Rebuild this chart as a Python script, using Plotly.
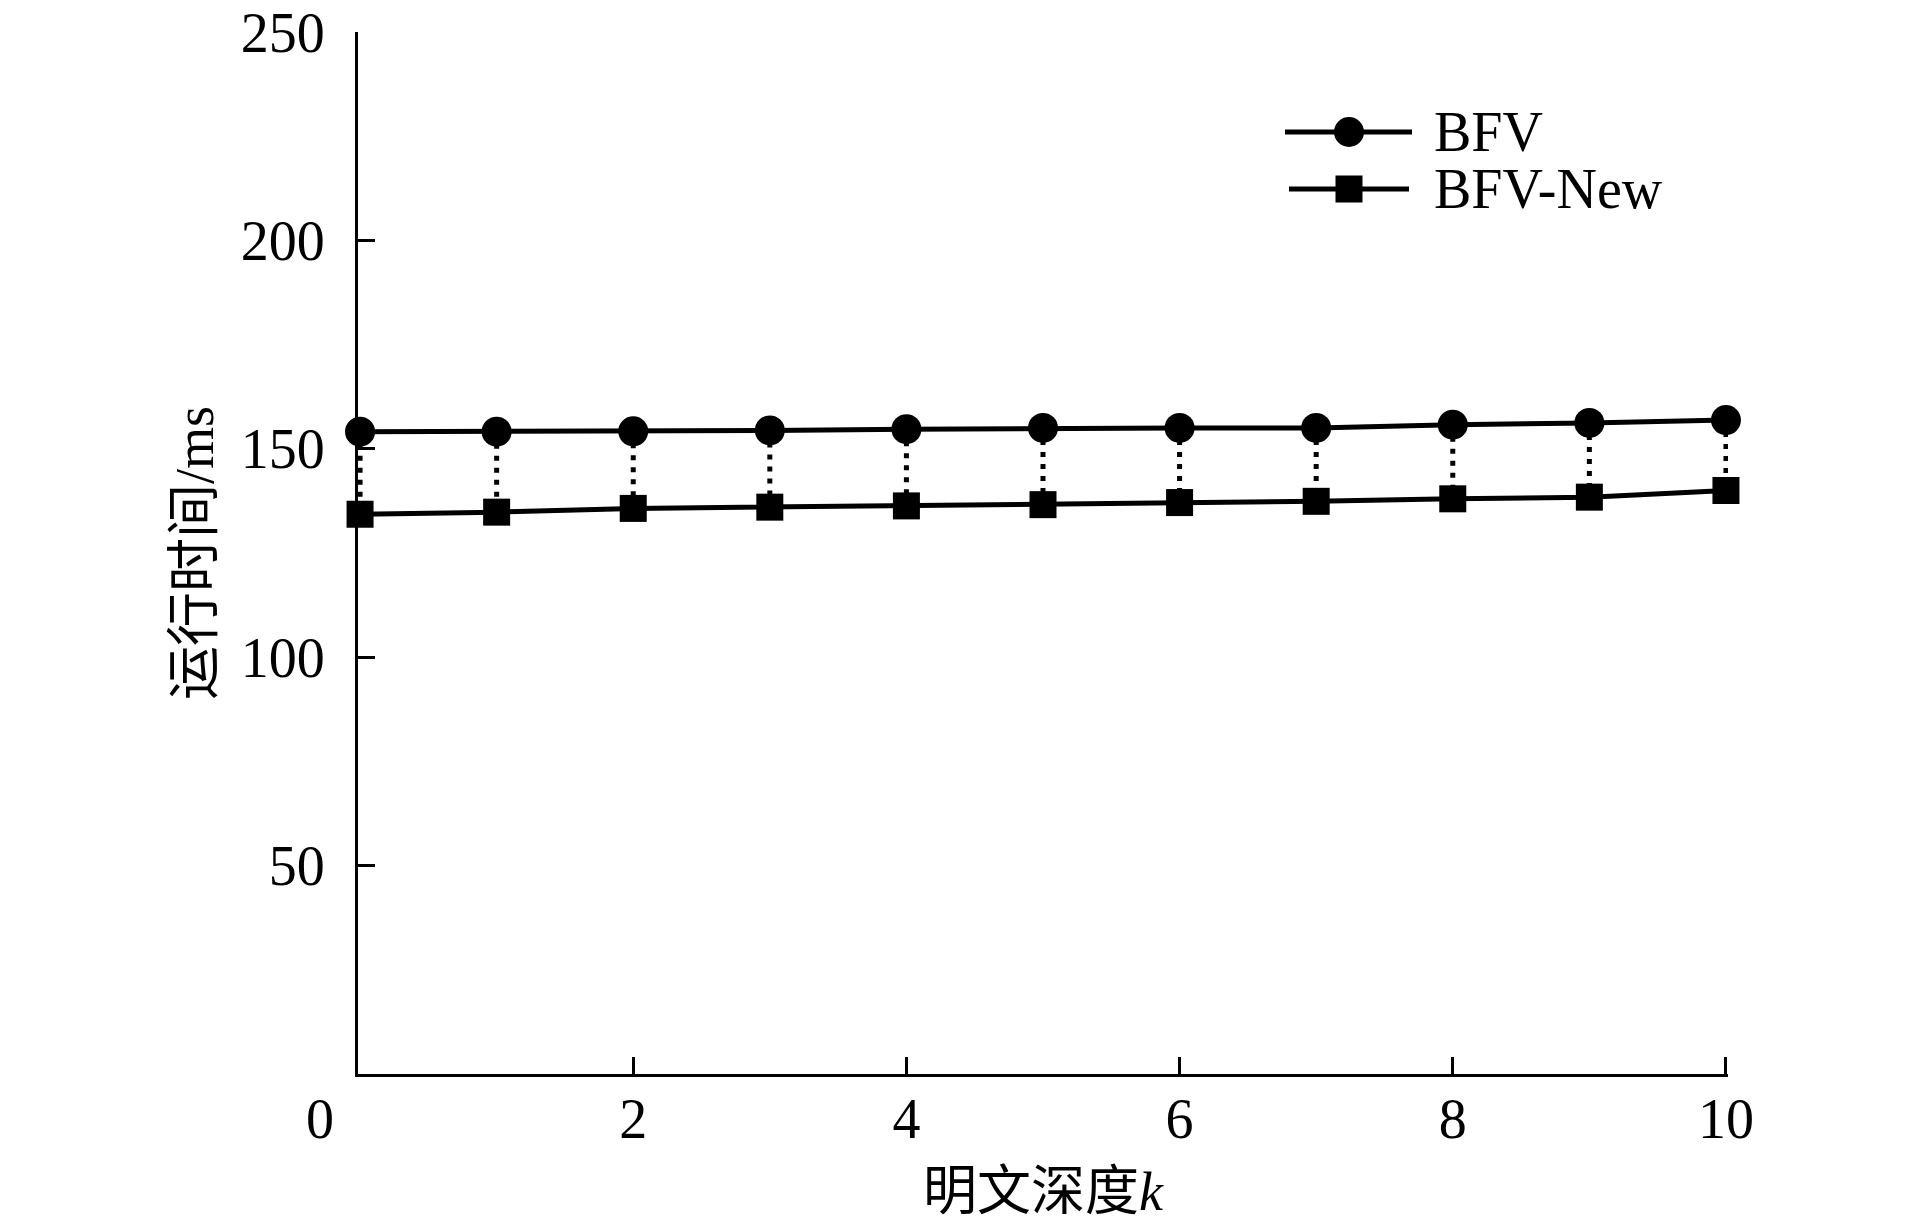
import plotly.graph_objects as go

depth_k = [0, 1, 2, 3, 4, 5, 6, 7, 8, 9, 10]
bfv = [154.1, 154.1, 154.2, 154.4, 154.7, 155.0, 155.0, 155.0, 155.8, 156.2, 156.9]
bfv_new = [134.3, 134.8, 135.7, 136.0, 136.3, 136.6, 137.1, 137.4, 138.0, 138.4, 140.0]
x_ticks = [2, 4, 6, 8, 10]
y_ticks = [50, 100, 150, 200, 250]
series_names = ["BFV", "BFV-New"]

SERIF = "Liberation Serif, 'Noto Sans CJK SC', serif"
OFFX, OFFY = 6, 8  # page offset
W, H = 1905, 1220
L, T = 356 - OFFX, 32 - OFFY
R = W - (1726 - OFFX)
B = H - (1074 - OFFY)
pw, ph = W - L - R, H - T - B

def px(x):
    return (x - OFFX - L) / pw

def py(y):
    return (H - B - (y - OFFY)) / ph

fig = go.Figure()

# dotted connectors between paired points
cx, cy = [], []
for k, a, b in zip(depth_k, bfv, bfv_new):
    cx += [k, k, None]
    cy += [a, b, None]
fig.add_trace(go.Scatter(x=cx, y=cy, mode="lines", showlegend=False,
                         line=dict(color="black", width=5, dash="5px,7px"),
                         cliponaxis=False, hoverinfo="skip"))

fig.add_trace(go.Scatter(x=depth_k, y=bfv, mode="lines+markers", name=series_names[0],
                         line=dict(color="black", width=5),
                         marker=dict(symbol="circle", size=30, color="black"),
                         cliponaxis=False, showlegend=False))
fig.add_trace(go.Scatter(x=depth_k, y=bfv_new, mode="lines+markers", name=series_names[1],
                         line=dict(color="black", width=5),
                         marker=dict(symbol="square", size=27, color="black"),
                         cliponaxis=False, showlegend=False))

# manual legend
shapes = []
annotations = []
leg_rows = [(132, "circle", 30, 1283, 1410), (189, "rect", 27, 1287, 1407)]
for (yy, sym, sz, x0, x1), name in zip(leg_rows, series_names):
    shapes.append(dict(type="line", xref="paper", yref="paper",
                       x0=px(x0), x1=px(x1), y0=py(yy), y1=py(yy),
                       line=dict(color="black", width=5)))
    shapes.append(dict(type=sym, xref="paper", yref="paper",
                       xsizemode="pixel", ysizemode="pixel",
                       xanchor=px(1347), yanchor=py(yy),
                       x0=-sz / 2, x1=sz / 2, y0=-sz / 2, y1=sz / 2,
                       fillcolor="black", line=dict(color="black", width=0)))
    annotations.append(dict(text=name, xref="paper", yref="paper",
                            x=px(1430), y=py(yy), xanchor="left", yanchor="middle",
                            showarrow=False, font=dict(family=SERIF, size=56, color="black")))

# origin label "0"
annotations.append(dict(text="0", xref="x", yref="paper", x=0, y=0,
                        xanchor="center", yanchor="top", xshift=-40, yshift=-12,
                        showarrow=False, font=dict(family=SERIF, size=56, color="black")))

fig.update_layout(
    width=W, height=H,
    margin=dict(l=L, r=R, t=T, b=B, pad=0, autoexpand=False),
    plot_bgcolor="white", paper_bgcolor="white",
    shapes=shapes, annotations=annotations,
    showlegend=False,
    xaxis=dict(range=[-0.015, 10.015], tickvals=x_ticks, ticktext=[str(v) for v in x_ticks],
               ticks="inside", ticklen=17, tickwidth=3, tickcolor="black", automargin=False,
               showline=True, linecolor="black", linewidth=3, showgrid=False, zeroline=False,
               tickfont=dict(family=SERIF, size=56, color="black"), ticklabelstandoff=-6,
               ticklabeloverflow="allow",
               title=dict(text="明文深度<i>k</i>", font=dict(family=SERIF, size=54, color="black"),
                          standoff=23)),
    yaxis=dict(range=[0, 250], tickvals=y_ticks, ticktext=[str(v) for v in y_ticks],
               ticks="inside", ticklen=17, tickwidth=3, tickcolor="black", automargin=False,
               showline=True, linecolor="black", linewidth=3, showgrid=False, zeroline=False,
               tickfont=dict(family=SERIF, size=56, color="black"), ticklabelstandoff=19,
               ticklabeloverflow="allow",
               title=dict(text="运行时间/ms", font=dict(family=SERIF, size=54, color="black"),
                          standoff=10)),
)

fig.write_html("out.html")
